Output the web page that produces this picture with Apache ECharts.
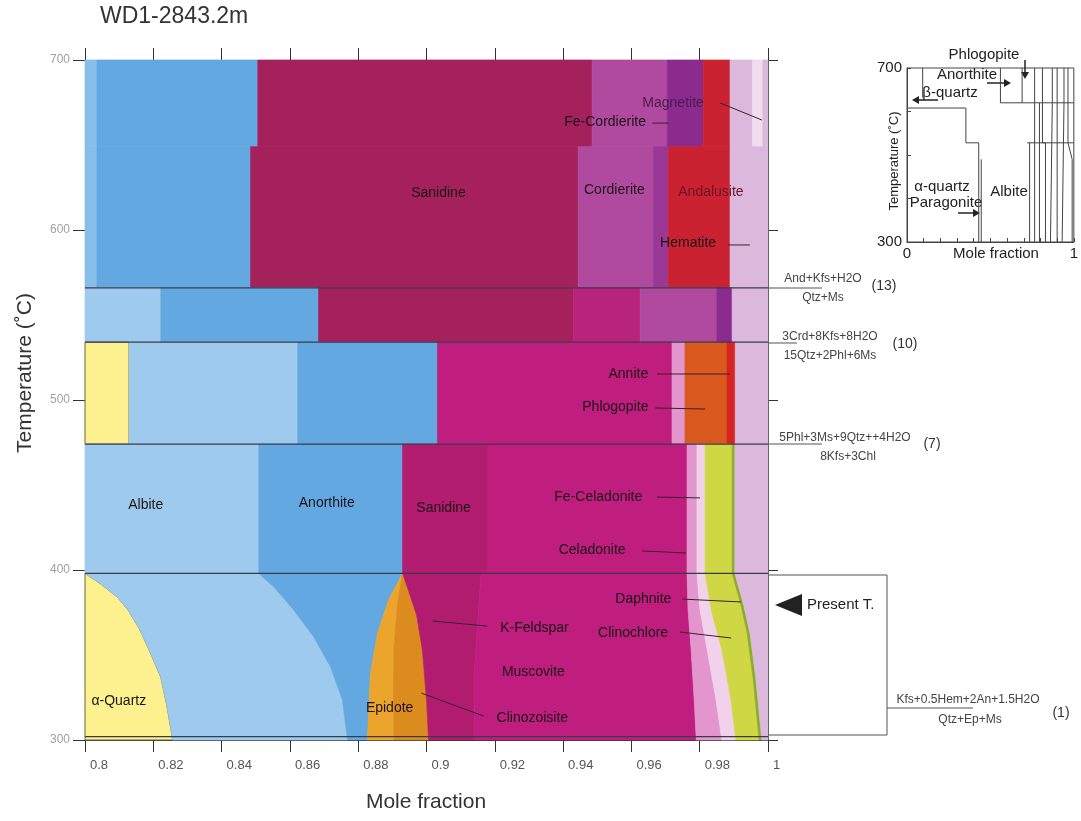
<!DOCTYPE html>
<html>
<head>
<meta charset="utf-8">
<script src="https://cdn.jsdelivr.net/npm/echarts@6/dist/echarts.min.js"></script>
<style>
  html, body { margin: 0; background: #fff; }
  #chart { width: 1081px; height: 821px; }
</style>
</head>
<body>
<div id="chart"></div>
<script>
  // ---- data: phase stacks (cumulative mole fraction) per temperature band ----
  // reaction lines (°C)
  const reactionTemps = [566, 534, 474, 398, 302]

  // 649-700 °C
  const bandATemps = [649, 700]
  const bandAEdges = [0.8, 0.8035, 0.8506, 0.9485, 0.9705, 0.981, 0.9889, 0.9955, 0.9985, 1.0]
  const bandAPhases = ['AlbiteStrip', 'Anorthite', 'Sanidine', 'Cordierite', 'Magnetite', 'Andalusite', 'Lavender', 'Pale', 'Lavender']

  // 566-649 °C
  const bandBTemps = [566, 649]
  const bandBEdges = [0.8, 0.8035, 0.8485, 0.9444, 0.9664, 0.9708, 0.9889, 1.0]
  const bandBPhases = ['AlbiteStrip', 'Anorthite', 'Sanidine', 'Cordierite', 'FeCordierite', 'Andalusite', 'Lavender']

  // 534-566 °C
  const bandCTemps = [534, 566]
  const bandCEdges = [0.8, 0.8222, 0.8684, 0.943, 0.9626, 0.985, 0.9895, 1.0]
  const bandCPhases = ['Albite', 'Anorthite', 'Sanidine', 'Muscovite2', 'Cordierite', 'Magnetite', 'Lavender']

  // 474-534 °C
  const bandDTemps = [474, 534]
  const bandDEdges = [0.8, 0.8129, 0.8623, 0.9032, 0.9719, 0.9757, 0.988, 0.9904, 1.0]
  const bandDPhases = ['Quartz', 'Albite', 'Anorthite', 'Muscovite', 'Celadonite', 'Phlogopite', 'Annite', 'Lavender']

  // 398-474 °C
  const bandETemps = [398, 474]
  const bandEEdges = [0.8, 0.8509, 0.893, 0.918, 0.9763, 0.9792, 0.9816, 0.9895, 0.9903, 1.0]
  const bandEPhases = ['Albite', 'Anorthite', 'Sanidine2', 'Muscovite', 'Celadonite', 'FeCeladonite', 'Clinochlore', 'Daphnite', 'Lavender']

  // 300-398 °C, curved boundaries [x, T]
  const bandFTemps = [300, 398]
  const quartzEdge = [[0.8, 398], [0.8045, 392], [0.8095, 384], [0.8126, 376.5], [0.8158, 366], [0.8184, 354.7], [0.8205, 345], [0.8222, 337], [0.824, 320], [0.8257, 300]]
  const albiteEdge = [[0.8509, 398], [0.8553, 390], [0.8611, 376.5], [0.867, 360.6], [0.8719, 343], [0.8754, 323.5], [0.8769, 300]]
  const epidoteEdge = [[0.893, 398], [0.8889, 382.4], [0.8857, 363], [0.8836, 339.4], [0.8827, 300]]
  const clinozoisiteEdge = [[0.893, 398], [0.8915, 380], [0.8905, 355], [0.8903, 330], [0.8905, 300]]
  const kfsEdge = [[0.893, 398], [0.8947, 388], [0.8971, 373.5], [0.8988, 353], [0.9, 323.5], [0.9006, 300]]
  const muscoviteEdge = [[0.916, 398], [0.915, 370], [0.914, 340], [0.914, 300]]
  const celadoniteEdge = [[0.9763, 398], [0.9766, 376.5], [0.9775, 353], [0.9784, 323.5], [0.979, 300]]
  const feCeladoniteEdge = [[0.9792, 398], [0.9801, 376.5], [0.9822, 353], [0.9848, 323.5], [0.9865, 300]]
  const chloriteEdge = [[0.9816, 398], [0.9834, 376.5], [0.9865, 353], [0.9892, 323.5], [0.9906, 300]]
  const daphniteEdge = [[0.9895, 398], [0.992, 380], [0.9939, 363], [0.9956, 337], [0.9974, 300]]
  const lavenderEdge = [[0.9903, 398], [0.9928, 380], [0.9947, 363], [0.9964, 337], [0.9982, 300]]
  const bandFEdges = [0.8, quartzEdge, albiteEdge, epidoteEdge, clinozoisiteEdge, kfsEdge, muscoviteEdge,
    celadoniteEdge, feCeladoniteEdge, chloriteEdge, daphniteEdge, lavenderEdge, 1.0]
  const bandFPhases = ['Quartz', 'Albite', 'Anorthite', 'Epidote', 'Clinozoisite', 'KFeldspar', 'Muscovite',
    'Celadonite', 'FeCeladonite', 'Clinochlore', 'Daphnite', 'Lavender']

  // phase names written on the diagram [x, T, text]
  const phaseLabels = [
    [0.9035, 621.8, 'Sanidine'], [0.955, 623.5, 'Cordierite'], [0.9833, 622.4, 'Andalusite'],
    [0.9722, 674.7, 'Magnetite'], [0.9523, 663.5, 'Fe-Cordierite'], [0.9766, 592.4, 'Hematite'],
    [0.9591, 515.3, 'Annite'], [0.9553, 495.9, 'Phlogopite'],
    [0.8178, 438.2, 'Albite'], [0.8708, 439.4, 'Anorthite'], [0.905, 436.5, 'Sanidine'],
    [0.9503, 442.9, 'Fe-Celadonite'], [0.9485, 411.8, 'Celadonite'],
    [0.9635, 382.9, 'Daphnite'], [0.9605, 362.9, 'Clinochlore'],
    [0.9316, 365.9, 'K-Feldspar'], [0.9313, 340, 'Muscovite'], [0.931, 312.9, 'Clinozoisite'],
    [0.8892, 318.8, 'Epidote'], [0.8099, 322.9, 'α-Quartz']
  ]
  // leader lines [x1, T1, x2, T2]
  const leaderLines = [
    [0.986, 674.7, 0.9982, 664.7], [0.9661, 662.9, 0.9708, 662.9], [0.9883, 591.2, 0.9947, 591.2],
    [0.9675, 515.3, 0.9889, 515.3], [0.967, 495.3, 0.9816, 494.7], [0.9675, 442.9, 0.9801, 442.4],
    [0.9632, 411.2, 0.976, 410], [0.9749, 382.9, 0.9921, 381.2], [0.9743, 363.5, 0.9892, 360],
    [0.9018, 370, 0.9178, 367], [0.8985, 327.6, 0.9167, 314.1]
  ]

  // inset: whole composition 0-1
  const insetLines = [
    [[0.094, 700], [0.094, 632]],
    [[0, 608], [0.353, 608], [0.353, 528], [0.43, 528], [0.43, 300]],
    [[0.445, 490], [0.445, 300]],
    [[0.56, 700], [0.56, 620], [0.69, 620]],
    [[0.69, 700], [0.69, 620], [1, 620]],
    [[0.72, 528], [1, 528]],
    [[0.735, 528], [0.735, 300]],
    [[0.765, 700], [0.765, 300]],
    [[0.794, 620], [0.794, 300]],
    [[0.812, 700], [0.812, 528], [0.83, 528], [0.83, 300]],
    [[0.871, 700], [0.871, 620], [0.86, 620], [0.86, 300]],
    [[0.9, 700], [0.9, 300]],
    [[0.941, 700], [0.941, 620], [0.93, 620], [0.93, 300]],
    [[0.965, 700], [0.965, 528], [0.99, 490], [0.99, 300]]
  ]

  // ---- styles ----
  const phaseColor = {
    AlbiteStrip: '#88bfea', Albite: '#9dcaed', Anorthite: '#63a8e1',
    Sanidine: '#a5215c', Sanidine2: '#b31d70', Muscovite: '#bf1e7e', Muscovite2: '#b8237c', KFeldspar: '#b11c6f',
    Cordierite: '#b04a9f', FeCordierite: '#9a3896', Magnetite: '#8b2b8e', Andalusite: '#cb2231',
    Lavender: '#dcb8dc', Pale: '#f0dcee', Quartz: '#fdf08e', Epidote: '#eba52c', Clinozoisite: '#dc8b1f',
    Celadonite: '#e296cd', FeCeladonite: '#f2d2ea', Clinochlore: '#cfd745', Daphnite: '#8aac2a',
    Phlogopite: '#d9591f', Annite: '#d72420'
  }
  const FONT = 'Liberation Sans, Arial, sans-serif'

  // build polygons between neighbouring edges
  const regions = []
  function edgePoints(e, tLo, tHi) {
    if (typeof e === 'number') return [[e, tHi], [e, tLo]]
    return e.slice().sort((a, b) => b[1] - a[1])
  }
  function addBand(temps, edges, phases) {
    for (let i = 0; i < phases.length; i++) {
      const left = edgePoints(edges[i], temps[0], temps[1])
      const right = edgePoints(edges[i + 1], temps[0], temps[1]).slice().reverse()
      regions.push({ phase: phases[i], pts: left.concat(right) })
    }
  }
  addBand(bandATemps, bandAEdges, bandAPhases)
  addBand(bandBTemps, bandBEdges, bandBPhases)
  addBand(bandCTemps, bandCEdges, bandCPhases)
  addBand(bandDTemps, bandDEdges, bandDPhases)
  addBand(bandETemps, bandEEdges, bandEPhases)
  addBand(bandFTemps, bandFEdges, bandFPhases)

  const segments = reactionTemps.map(t => ({ a: [0.8, t], b: [1.0, t], color: '#3a3a4c', w: 1.2 }))
    .concat(leaderLines.map(l => ({ a: [l[0], l[1]], b: [l[2], l[3]], color: '#3a2030', w: 1 })))

  // ---- annotations outside the plot (pixels) ----
  const graphics = []
  function txt(x, y, s, size, extra) {
    graphics.push(Object.assign({
      type: 'text', x: x, y: y, silent: true,
      style: Object.assign({
        text: s, fontSize: size, fontFamily: FONT, fill: '#222',
        align: 'center', verticalAlign: 'middle', textAlign: 'center', textVerticalAlign: 'middle'
      }, extra || {})
    }))
  }
  function seg(x1, y1, x2, y2, color, w) {
    graphics.push({ type: 'line', silent: true, shape: { x1: x1, y1: y1, x2: x2, y2: y2 }, style: { stroke: color || '#444', lineWidth: w || 1 } })
  }
  function tri(points, color) {
    graphics.push({ type: 'polygon', silent: true, shape: { points: points }, style: { fill: color || '#222' } })
  }

  txt(100, 17, 'WD1-2843.2m', 23, { align: 'left', textAlign: 'left', fill: '#333' })
  txt(426, 802, 'Mole fraction', 21, { fill: '#333' })
  graphics.push({
    type: 'text', x: 25, y: 373, rotation: Math.PI / 2, silent: true,
    style: { text: 'Temperature (˚C)', fontSize: 21, fontFamily: FONT, fill: '#333',
      align: 'center', verticalAlign: 'middle', textAlign: 'center', textVerticalAlign: 'middle' }
  })

  // reaction labels on the right
  const rxFont = { fontFamily: 'Liberation Sans Narrow, Liberation Sans, Arial', fill: '#444' }
  seg(768, 288, 822, 288, '#555', 1)
  txt(823, 279, 'And+Kfs+H2O', 12, rxFont)
  txt(823, 298, 'Qtz+Ms', 12, rxFont)
  txt(884, 286, '(13)', 14, { fill: '#333' })

  seg(768, 343, 797, 343, '#555', 1)
  txt(830, 337, '3Crd+8Kfs+8H2O', 12, rxFont)
  txt(830, 356, '15Qtz+2Phl+6Ms', 12, rxFont)
  txt(905, 344, '(10)', 14, { fill: '#333' })

  seg(768, 444, 822, 444, '#555', 1)
  txt(845, 438, '5Phl+3Ms+9Qtz++4H2O', 12, rxFont)
  txt(848, 457, '8Kfs+3Chl', 12, rxFont)
  txt(932, 444, '(7)', 14, { fill: '#333' })

  // present temperature box
  graphics.push({ type: 'rect', silent: true, shape: { x: 768, y: 575, width: 119, height: 160 }, style: { fill: 'none', stroke: '#555', lineWidth: 1 } })
  tri([[775, 605], [802, 594], [802, 616]], '#222')
  txt(807, 605, 'Present T.', 15, { align: 'left', textAlign: 'left' })
  seg(887, 708, 973, 708, '#555', 1)
  txt(968, 700, 'Kfs+0.5Hem+2An+1.5H2O', 12, rxFont)
  txt(970, 720, 'Qtz+Ep+Ms', 12, rxFont)
  txt(1061, 713, '(1)', 14, { fill: '#333' })

  // inset texts and arrows
  txt(984, 55, 'Phlogopite', 15)
  seg(1025, 60, 1025, 72, '#222', 1.5); tri([[1021, 72], [1029, 72], [1025, 79]])
  txt(967, 75, 'Anorthite', 15)
  seg(987, 83, 1004, 83, '#222', 1.5); tri([[1004, 79], [1004, 87], [1011, 83]])
  txt(950, 93, 'β-quartz', 15)
  seg(938, 100, 919, 100, '#222', 1.5); tri([[919, 96], [919, 104], [912, 100]])
  txt(942, 187, 'α-quartz', 15)
  txt(946, 203, 'Paragonite', 15)
  seg(958, 213, 973, 213, '#222', 1.5); tri([[973, 209], [973, 217], [980, 213]])
  txt(1009, 192, 'Albite', 15)
  txt(996, 254, 'Mole fraction', 15)
  graphics.push({
    type: 'text', x: 894, y: 161, rotation: Math.PI / 2, silent: true,
    style: { text: 'Temperature (˚C)', fontSize: 13, fontFamily: FONT, fill: '#222',
      align: 'center', verticalAlign: 'middle', textAlign: 'center', textVerticalAlign: 'middle' }
  })

  // ---- chart ----
  const myChart = echarts.init(document.getElementById('chart'))
  const axisLineStyle = { color: '#333', width: 1 }
  const insetSeries = insetLines.map(line => ({
    type: 'line', xAxisIndex: 2, yAxisIndex: 2, data: line, symbol: 'none', silent: true,
    lineStyle: { color: '#444', width: 1 }
  }))

  let option = {
    animation: false,
    grid: [
      { left: 85, top: 60, width: 683, height: 680 },
      { left: 907, top: 68, width: 170, height: 174, show: true, borderColor: '#444', borderWidth: 1, backgroundColor: 'transparent' }
    ],
    xAxis: [
      {
        type: 'value', gridIndex: 0, position: 'bottom', min: 0.8, max: 1, interval: 0.02,
        axisLine: { lineStyle: axisLineStyle }, axisTick: { length: 12, lineStyle: axisLineStyle },
        axisLabel: { color: '#555', fontSize: 13, fontFamily: FONT, margin: 19, align: 'left', padding: [0, 0, 0, 5] },
        splitLine: { show: false }
      },
      {
        type: 'value', gridIndex: 0, position: 'top', min: 0.8, max: 1, interval: 0.02,
        axisLine: { lineStyle: axisLineStyle }, axisTick: { length: 12, lineStyle: axisLineStyle },
        axisLabel: { show: false }, splitLine: { show: false }
      },
      {
        type: 'value', gridIndex: 1, min: 0, max: 1, interval: 0.1,
        axisLine: { lineStyle: { color: '#444' } }, axisTick: { inside: true, length: 4, lineStyle: { color: '#444' } },
        axisLabel: { color: '#222', fontSize: 15, fontFamily: FONT, margin: 4, formatter: v => (v === 0 || v === 1) ? String(v) : '' },
        splitLine: { show: false }
      }
    ],
    yAxis: [
      {
        type: 'value', gridIndex: 0, position: 'left', min: 300, max: 700, interval: 100,
        axisLine: { show: true, lineStyle: axisLineStyle }, axisTick: { show: true, length: 12, lineStyle: axisLineStyle },
        axisLabel: { color: '#a0a0a0', fontSize: 12, fontFamily: FONT, margin: 15 },
        splitLine: { show: false }
      },
      {
        type: 'value', gridIndex: 0, position: 'right', min: 300, max: 700, interval: 100,
        axisLine: { show: true, lineStyle: axisLineStyle }, axisTick: { show: true, length: 10, lineStyle: axisLineStyle },
        axisLabel: { show: false }, splitLine: { show: false }
      },
      {
        type: 'value', gridIndex: 1, min: 300, max: 700, interval: 100,
        axisLine: { show: true, lineStyle: { color: '#444' } }, axisTick: { show: true, inside: true, length: 4 },
        axisLabel: { color: '#222', fontSize: 15, fontFamily: FONT, margin: 5, formatter: v => (v === 300 || v === 700) ? String(v) : '' },
        splitLine: { show: false }
      }
    ],
    series: [
      {
        name: 'phases', type: 'custom', xAxisIndex: 0, yAxisIndex: 0, silent: true,
        data: regions.map(r => r.pts[0]),
        renderItem: function (params, api) {
          const r = regions[params.dataIndex]
          const c = phaseColor[r.phase]
          const isQz = r.phase === 'Quartz'
          return {
            type: 'polygon',
            shape: { points: r.pts.map(p => api.coord(p)) },
            style: { fill: c, stroke: isQz ? '#6e6838' : c, lineWidth: isQz ? 1 : 0.7 }
          }
        }
      },
      {
        name: 'lines', type: 'custom', xAxisIndex: 0, yAxisIndex: 0, silent: true,
        data: segments.map(s => s.a),
        renderItem: function (params, api) {
          const s = segments[params.dataIndex]
          const a = api.coord(s.a), b = api.coord(s.b)
          return { type: 'line', shape: { x1: a[0], y1: a[1], x2: b[0], y2: b[1] }, style: { stroke: s.color, lineWidth: s.w } }
        }
      },
      {
        name: 'labels', type: 'custom', xAxisIndex: 0, yAxisIndex: 0, silent: true,
        data: phaseLabels.map(l => [l[0], l[1]]),
        renderItem: function (params, api) {
          const l = phaseLabels[params.dataIndex]
          const p = api.coord([l[0], l[1]])
          let fill = '#1c1418'
          if (l[2] === 'Magnetite') fill = '#4a1a50'
          if (l[2] === 'Andalusite') fill = '#6a1424'
          return {
            type: 'text', x: p[0], y: p[1],
            style: { text: l[2], fontSize: 14, fontFamily: FONT, fill: fill,
              align: 'center', verticalAlign: 'middle', textAlign: 'center', textVerticalAlign: 'middle' }
          }
        }
      }
    ].concat(insetSeries),
    graphic: graphics
  }
  myChart.setOption(option)
</script>
</body>
</html>
